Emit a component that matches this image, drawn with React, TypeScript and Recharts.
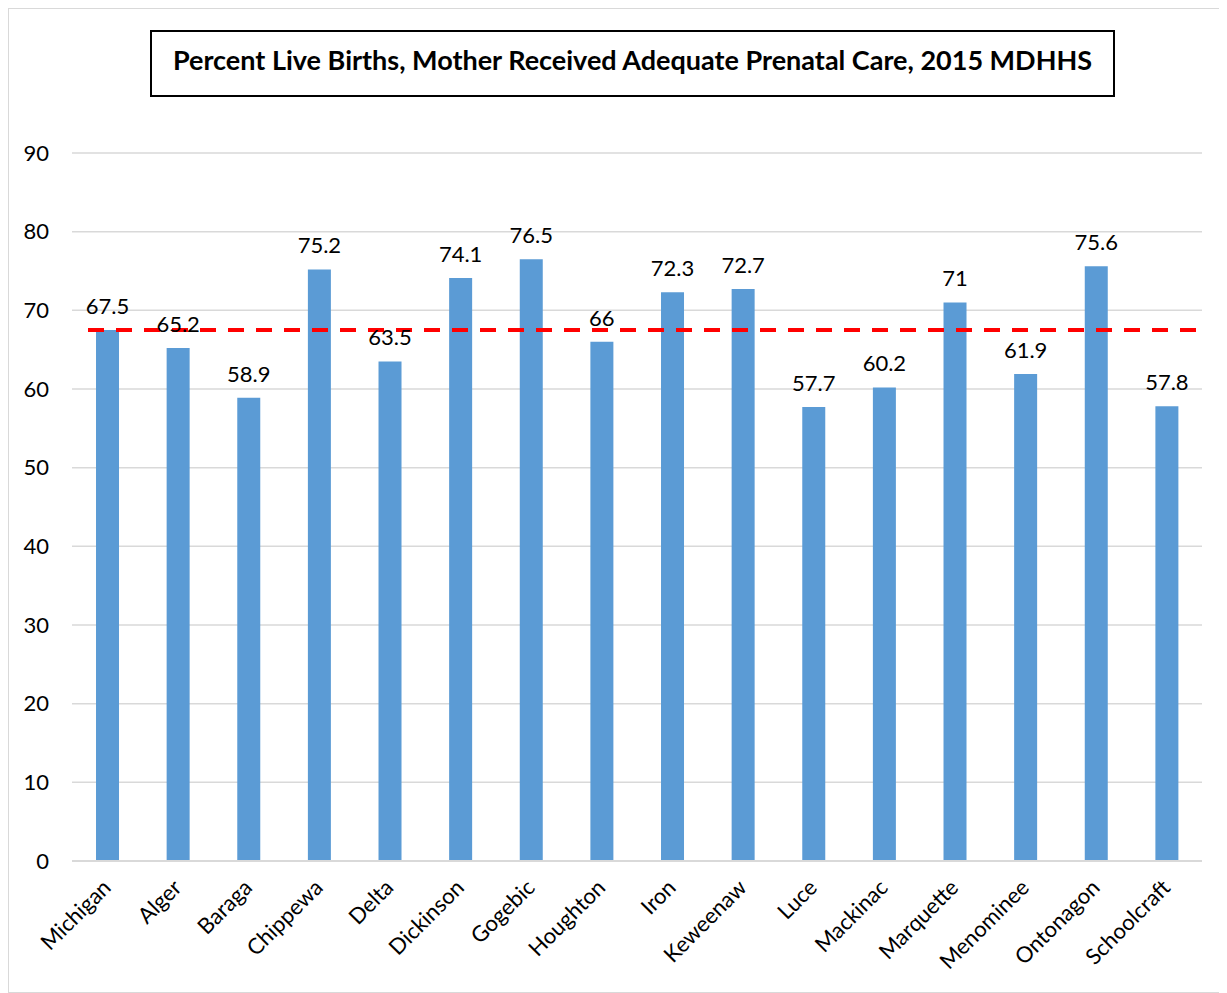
import { BarChart, Bar, XAxis, YAxis, CartesianGrid, ReferenceLine, LabelList } from "recharts";

const counties = [
  "Michigan", "Alger", "Baraga", "Chippewa", "Delta", "Dickinson", "Gogebic", "Houghton",
  "Iron", "Keweenaw", "Luce", "Mackinac", "Marquette", "Menominee", "Ontonagon", "Schoolcraft",
];
const adequateCare = [67.5, 65.2, 58.9, 75.2, 63.5, 74.1, 76.5, 66, 72.3, 72.7, 57.7, 60.2, 71, 61.9, 75.6, 57.8];
const stateRate = 67.5;
const yTicks = [0, 10, 20, 30, 40, 50, 60, 70, 80, 90];

const data = counties.map((name, i) => ({ name, value: adequateCare[i] }));

const FONT = "Lato, 'Noto Sans', sans-serif";

function CountyTick(props: any) {
  const { x, y, payload } = props;
  const ax = x + 5;
  const ay = y + 20;
  return (
    <text
      x={ax}
      y={ay}
      transform={`rotate(-45 ${ax} ${ay})`}
      textAnchor="end"
      fontSize={22}
      fontFamily={FONT}
      fill="#000"
    >
      {payload.value}
    </text>
  );
}

function StateLine(props: any) {
  const { x1, x2, y1 } = props;
  return (
    <line
      x1={x1 + 16}
      x2={x2 - 5}
      y1={y1}
      y2={y1}
      stroke="#ff0000"
      strokeWidth={4}
      strokeDasharray="16 12"
    />
  );
}

export default function App() {
  return (
    <div
      style={{
        position: "relative",
        width: 1219,
        height: 985,
        border: "1px solid #d9d9d9",
        boxSizing: "border-box",
        background: "#fff",
      }}
    >
      <div
        style={{
          position: "absolute",
          left: 141,
          top: 21,
          width: 965,
          height: 67,
          border: "2px solid #000",
          boxSizing: "border-box",
          paddingBottom: 8,
          display: "flex",
          alignItems: "center",
          justifyContent: "center",
          fontFamily: FONT,
          fontWeight: 700,
          fontSize: 27,
          color: "#000",
        }}
      >
        Percent Live Births, Mother Received Adequate Prenatal Care, 2015 MDHHS
      </div>
      <BarChart
        width={1217}
        height={983}
        data={data}
        margin={{ top: 144, right: 24, bottom: 11, left: 0 }}
        barCategoryGap="34%"
      >
        <CartesianGrid vertical={false} stroke="#d9d9d9" strokeWidth={1.5} />
        <XAxis
          dataKey="name"
          interval={0}
          height={120}
          tickLine={false}
          axisLine={{ stroke: "#d9d9d9", strokeWidth: 2 }}
          tick={<CountyTick />}
        />
        <YAxis
          domain={[0, 90]}
          ticks={yTicks}
          width={63}
          axisLine={false}
          tickLine={false}
          tickSize={8}
          tickMargin={15}
          tick={{ fontSize: 22, fontFamily: FONT, fill: "#000" }}
        />
        <Bar dataKey="value" fill="#5b9bd5" isAnimationActive={false}>
          <LabelList
            dataKey="value"
            position="top"
            offset={16}
            style={{ fontSize: 22, fontFamily: FONT, fill: "#000" }}
          />
        </Bar>
        <ReferenceLine y={stateRate} shape={<StateLine />} />
      </BarChart>
    </div>
  );
}
